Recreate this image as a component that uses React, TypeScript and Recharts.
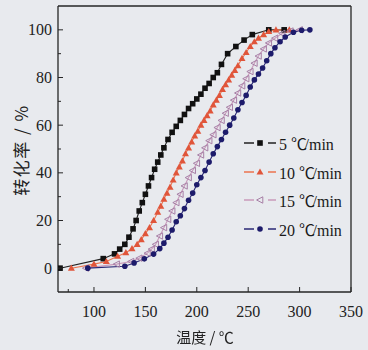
import { Line, LineChart, ReferenceLine, XAxis, YAxis } from 'recharts';

// conversion curves at four heating rates, temperature in °C, conversion in %
const temp5 = [67, 109, 120, 125, 130, 134, 138, 141, 144, 147, 150, 153, 156, 159, 162, 165, 168, 172, 176, 180, 184, 188, 192, 196, 200, 204, 208, 212, 216, 220, 224, 230, 238, 246, 254, 270, 285];
const conv5 = [0, 4, 6, 8, 10, 13, 16.5, 20, 24, 27.5, 31, 34.5, 38, 41.5, 44.5, 47.5, 50.5, 54, 57, 59.5, 62, 64.5, 67, 69, 71, 73, 75.5, 77.5, 80, 82, 85.5, 90, 93, 95.7, 98, 100, 100];

const temp10 = [78, 100, 112, 123, 131, 137, 142, 146, 150, 154, 158, 162, 165, 168, 171, 174, 177, 180, 183, 186, 189, 192, 195, 198, 201, 204, 207, 210, 213, 216, 219, 222, 225, 228, 231, 234, 237, 240, 244, 248, 252, 256, 260, 265, 270, 277, 290];
const conv10 = [0, 1.7, 2.8, 5, 6.5, 8.2, 10, 12, 14.5, 17, 20, 23.5, 26, 29, 31.5, 34, 37, 40, 42.5, 45, 48, 50.5, 53, 55.5, 57.5, 60, 62, 64, 66, 68.5, 70.5, 72.5, 75, 77, 79, 81, 83, 85, 88, 90.5, 93, 95, 96.5, 98, 99.3, 100, 100];

const temp15 = [92, 122, 136, 144, 152, 156, 160, 164, 168, 172, 176, 180, 184, 188, 192, 196, 200, 204, 208, 212, 216, 220, 224, 228, 232, 236, 240, 244, 248, 252, 256, 260, 265, 270, 276, 283, 291, 300];
const conv15 = [0, 1.7, 2.8, 4.2, 6.3, 8, 10, 13.5, 17, 20.5, 24, 27.5, 31, 34.5, 38, 41, 44, 47.5, 50.5, 53.5, 56, 59, 62, 65, 67.5, 70.5, 73.5, 76.5, 79.5, 82.5, 86, 89, 92, 94.5, 96.5, 98.5, 99.5, 100];

const temp20 = [94, 130, 139, 149, 158, 164, 168, 172, 176, 180, 184, 188, 192, 196, 200, 204, 208, 212, 216, 220, 224, 228, 232, 236, 240, 244, 248, 252, 256, 260, 264, 268, 272, 276, 281, 286, 294, 302, 310];
const conv20 = [0, 0.8, 2.2, 3.9, 5.9, 8.2, 10.5, 13, 16, 19.5, 22, 25, 28.5, 31.5, 35, 38, 41, 44.5, 48, 51, 54, 57, 60, 63, 66.5, 69.5, 72.5, 76, 79, 81.5, 84, 87, 90, 92.5, 95, 97, 99, 99.8, 100];

const rates = ['5', '10', '15', '20'];
const seriesNames = rates.map((r) => `${r} ℃/min`);
const xTicks = [75, 100, 125, 150, 175, 200, 225, 250, 275, 300, 325, 350];
const yTicks = [0, 10, 20, 30, 40, 50, 60, 70, 80, 90, 100];

const toRows = (t: number[], c: number[]) => t.map((v, i) => ({ T: v, a: c[i] }));

const colors = ['#111111', '#e0553a', '#a77fa6', '#1d1b6b'];
const lineColors = ['#222222', '#ec744f', '#c99bbb', '#2a2875'];
const axisColor = '#262626';
const serif = '"Liberation Serif", "DejaVu Serif", serif';
const cjk = '"Noto Sans CJK SC", sans-serif';

function Marker({ kind, cx, cy }: { kind: number; cx: number; cy: number }) {
  if (cx == null || cy == null) return null;
  if (kind === 0) return <rect x={cx - 2.8} y={cy - 2.8} width={5.6} height={5.6} fill={colors[0]} />;
  if (kind === 1)
    return <polygon points={`${cx},${cy - 3.6} ${cx - 3.5},${cy + 2.6} ${cx + 3.5},${cy + 2.6}`} fill={colors[1]} />;
  if (kind === 2)
    return (
      <polygon
        points={`${cx - 3.4},${cy} ${cx + 2.8},${cy - 3.2} ${cx + 2.8},${cy + 3.2}`}
        fill="none"
        stroke={colors[2]}
        strokeWidth={1}
      />
    );
  return <circle cx={cx} cy={cy} r={2.8} fill={colors[3]} />;
}

const dot = (kind: number) => (p: any) => <Marker key={`${kind}-${p.index}`} kind={kind} cx={p.cx} cy={p.cy} />;

function XTick({ x, y, payload }: any) {
  const major = payload.value % 50 === 0;
  return (
    <g>
      <line x1={x} x2={x} y1={y} y2={y - (major ? 5 : 3)} stroke={axisColor} strokeWidth={1} />
      {major && (
        <text x={x} y={y + 25} textAnchor="middle" fontFamily={serif} fontSize={16} fill="#222">
          {payload.value}
        </text>
      )}
    </g>
  );
}

function YTick({ x, y, payload }: any) {
  const major = payload.value % 20 === 0;
  return (
    <g>
      <line x1={x} x2={x + (major ? 5 : 3)} y1={y} y2={y} stroke={axisColor} strokeWidth={1} />
      {major && (
        <text x={x - 6} y={y + 5.5} textAnchor="end" fontFamily={serif} fontSize={16} fill="#222">
          {payload.value}
        </text>
      )}
    </g>
  );
}

const Celsius = () => <span style={{ fontFamily: cjk, letterSpacing: -2.5 }}>℃</span>;

function LegendBox() {
  return (
    <div style={{ position: 'absolute', left: 243, top: 129, fontFamily: serif, fontSize: 16, color: '#1a1a1a' }}>
      {rates.map((r, i) => (
        <div key={r} style={{ display: 'flex', alignItems: 'center', height: 28.5, whiteSpace: 'nowrap' }}>
          <svg width={34} height={12} style={{ marginRight: 2 }}>
            <line x1={1} x2={33} y1={6} y2={6} stroke={lineColors[i]} strokeWidth={1.4} strokeDasharray="10 14 10" />
            <Marker kind={i} cx={17} cy={6} />
          </svg>
          <span>
            {r} <Celsius />/min
          </span>
        </div>
      ))}
    </div>
  );
}

const allSeries = [toRows(temp5, conv5), toRows(temp10, conv10), toRows(temp15, conv15), toRows(temp20, conv20)];

export default function App() {
  return (
    <div style={{ position: 'fixed', left: 0, top: 0, width: 368, height: 350, background: '#e8eaee' }}>
      <LineChart width={368} height={350} margin={{ top: 6, right: 16, bottom: 28, left: 0 }}>
        <XAxis
          type="number"
          dataKey="T"
          domain={[65, 350]}
          ticks={xTicks}
          allowDataOverflow
          height={30}
          tickSize={0}
          tickMargin={0}
          tickLine={false}
          tick={<XTick />}
          axisLine={{ stroke: axisColor, strokeWidth: 1.3 }}
        />
        <YAxis
          type="number"
          domain={[-10, 110]}
          ticks={yTicks}
          allowDataOverflow
          width={58}
          tickSize={0}
          tickMargin={0}
          tickLine={false}
          tick={<YTick />}
          axisLine={{ stroke: axisColor, strokeWidth: 1.3 }}
        />
        <YAxis
          yAxisId="right"
          orientation="right"
          type="number"
          domain={[-10, 110]}
          width={1}
          tick={false}
          tickLine={false}
          axisLine={{ stroke: axisColor, strokeWidth: 1.3 }}
        />
        <ReferenceLine y={110} stroke={axisColor} strokeWidth={1.3} />
        {allSeries.map((rows, i) => (
          <Line
            key={seriesNames[i]}
            data={rows}
            dataKey="a"
            name={seriesNames[i]}
            type="linear"
            stroke={lineColors[i]}
            strokeWidth={1.1}
            dot={dot(i)}
            activeDot={false}
            isAnimationActive={false}
          />
        ))}
      </LineChart>
      <LegendBox />
      <div
        style={{
          position: 'absolute',
          left: 0,
          width: 410,
          top: 326,
          textAlign: 'center',
          fontFamily: cjk,
          fontSize: 15,
          color: '#222',
        }}
      >
        温度 / ℃
      </div>
      <div
        style={{
          position: 'absolute',
          left: 20,
          top: 150,
          transform: 'translate(-50%, -50%) rotate(-90deg)',
          whiteSpace: 'nowrap',
          fontFamily: cjk,
          fontSize: 17,
          letterSpacing: 1.5,
          color: '#222',
        }}
      >
        转化率 / %
      </div>
    </div>
  );
}
